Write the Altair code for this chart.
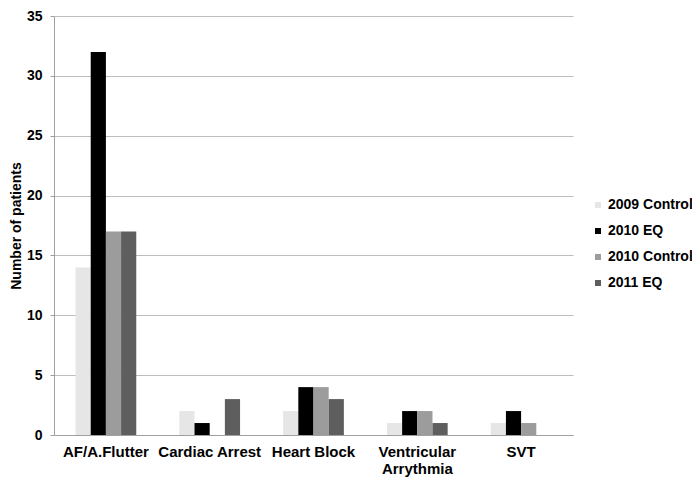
import altair as alt
import pandas as pd

categories = ["AF/A.Flutter", "Cardiac Arrest", "Heart Block", "Ventricular Arrythmia", "SVT"]
series = ["2009 Control", "2010 EQ", "2010 Control", "2011 EQ"]
values = {
    "2009 Control": [14, 2, 2, 1, 1],
    "2010 EQ": [32, 1, 4, 2, 2],
    "2010 Control": [17, 0, 4, 2, 1],
    "2011 EQ": [17, 3, 3, 1, 0],
}
colors = ["#e6e6e6", "#000000", "#9c9c9c", "#5e5e5e"]

rows = []
for s in series:
    for c, v in zip(categories, values[s]):
        rows.append({"category": c, "series": s, "value": v})
df = pd.DataFrame(rows)

FONT = "Liberation Sans"

chart = alt.Chart(df).mark_bar().encode(
    x=alt.X("category:N", sort=categories, title=None,
            scale=alt.Scale(paddingInner=0.415, paddingOuter=0.2075),
            axis=alt.Axis(labelAngle=0, labelFontWeight="bold", labelFontSize=15,
                          labelFont=FONT, labelColor="#000",
                          labelExpr="datum.label == 'Ventricular Arrythmia' ? ['Ventricular', 'Arrythmia'] : datum.label",
                          labelLineHeight=17,
                          ticks=False, domainColor="#a0a0a0", labelPadding=9)),
    xOffset=alt.XOffset("series:N", sort=series),
    y=alt.Y("value:Q", title="Number of patients",
            scale=alt.Scale(domain=[0, 35]),
            axis=alt.Axis(values=list(range(0, 36, 5)), labelFontSize=14,
                          labelFontWeight="bold",
                          labelFont=FONT, labelColor="#000",
                          titleFont=FONT, titleFontSize=14, titleFontWeight="bold",
                          titleColor="#000", gridColor="#bdbdbd", domainColor="#a0a0a0",
                          tickColor="#a0a0a0", tickSize=4, labelPadding=8, titlePadding=3)),
    color=alt.Color("series:N", sort=series,
                    scale=alt.Scale(domain=series, range=colors),
                    legend=alt.Legend(title=None, symbolType="square", symbolSize=36,
                                      symbolStrokeWidth=0, labelOffset=3,
                                      labelFont=FONT, labelFontSize=14,
                                      labelFontWeight="bold", labelColor="#000",
                                      rowPadding=12, orient="none",
                                      legendX=537, legendY=182, padding=0)),
).properties(
    width=519, height=419,
    autosize=alt.AutoSizeParams(type="none"),
    padding={"left": 46, "top": 8, "right": 119, "bottom": 42},
).configure_view(stroke=None)

chart.save("out.html", embed_options={"renderer": "svg", "actions": False})
